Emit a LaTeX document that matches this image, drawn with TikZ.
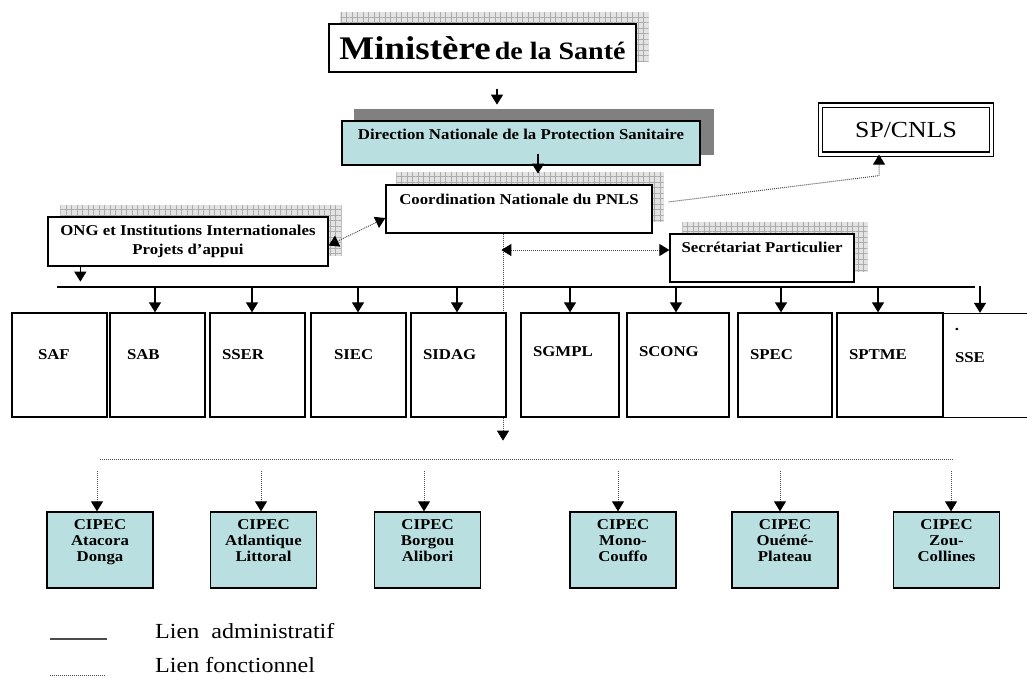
\documentclass[tikz,border=0pt]{standalone}
\usepackage{fontspec}
\setmainfont{Liberation Serif}[FakeStretch=1.12]
\usetikzlibrary{positioning, arrows.meta, backgrounds, patterns.meta}
\definecolor{cipecblue}{RGB}{186,223,225}
\definecolor{shadegray}{RGB}{128,128,128}
\newcommand\ttlfont{\bfseries\fontsize{15}{16}\selectfont}
\newcommand\lift[2]{\raisebox{#1}[\height][\depth]{#2}}
\newcommand\cip[2]{\lift{8pt}{\begin{tabular}{@{}c@{}}CIPEC\\#1\\#2\end{tabular}}}
\setlength{\parindent}{0pt}

\begin{document}
\begin{tikzpicture}[x=1pt, y=-1pt, >={Triangle[width=12pt,length=10pt,color=black]}]
		\tikzstyle{box} = [draw=black, line width=1.3pt, fill=white, inner sep=0pt, font=\ttlfont, align=center]
		\tikzstyle{svc} = [box, minimum height=104pt, inner xsep=12pt, align=left]
		\tikzstyle{cipec} = [box, fill=cipecblue, minimum width=106pt, minimum height=76pt]
		\tikzstyle{adm} = [->, line width=1.3pt]
		\tikzstyle{fct} = [densely dotted, line width=1pt, black!70]
		\tikzstyle{gridshade} = [preaction={fill=gray!22}, pattern={Hatch[angle=0,distance=5.5pt,line width=0.5pt]}, pattern color=gray!65]
		\tikzstyle{legend} = [anchor=west, inner sep=0pt, font=\fontsize{21.5}{24}\selectfont]
		\useasboundingbox (0,0) rectangle (1027,677);
		\clip (0,0) rectangle (1027,677);
		% top of the chart
		\node [box, minimum width=307pt, minimum height=48pt] (min) at (482.5,48) {{\fontsize{33}{36}\selectfont Ministère} {\fontsize{25}{28}\selectfont de la Santé}};
		\node [box, fill=cipecblue, minimum width=358pt, minimum height=44pt] (dnps) at (521,143) {\lift{9pt}{Direction Nationale de la Protection Sanitaire}};
		\node [box, minimum width=266pt, minimum height=48pt] (coord) at (519,209) {\lift{10pt}{Coordination Nationale du PNLS}};
		\node [box, double, double distance=3pt, line width=1.2pt, minimum width=171pt, minimum height=49pt, font=\fontsize{23}{26}\selectfont] (spcnls) at (906,129.5) {SP/CNLS};
		\node [box, minimum width=280pt, minimum height=49pt, font=\bfseries\fontsize{15}{19}\selectfont] (ong) at (188,241.5) {ONG et Institutions Internationales\\Projets d'appui};
		\node [box, minimum width=184pt, minimum height=48pt] (sec) at (762,258) {\lift{11pt}{Secrétariat Particulier}};
		\begin{scope}[on background layer]
		\fill [gridshade] ([shift={(12,-11)}]min.south west) rectangle ([shift={(12,-11)}]min.north east);
		\fill [shadegray] ([shift={(13,-11)}]dnps.south west) rectangle ([shift={(13,-11)}]dnps.north east);
		\fill [gridshade] ([shift={(11,-12)}]coord.south west) rectangle ([shift={(11,-12)}]coord.north east);
		\fill [gridshade] ([shift={(13,-11)}]ong.south west) rectangle ([shift={(13,-11)}]ong.north east);
		\fill [gridshade] ([shift={(13,-11)}]sec.south west) rectangle ([shift={(13,-11)}]sec.north east);
		\end{scope}
		\draw [adm] (min.south) ++(14.5,16) -- ++(0,16);
		\draw [adm] (dnps.south) ++(17,-12) -- ++(0,20);
		\draw [fct,->] ([xshift=16pt,yshift=7pt]coord.east) -- ([xshift=-27pt,yshift=-21pt]spcnls.south) -- ([xshift=-27pt]spcnls.south);
		\draw [fct,<->] ([yshift=-4pt]ong.east) -- ([yshift=-9pt]coord.west);
		\coordinate (drop) at ([xshift=-16pt]coord.south);
		\draw [fct,->] (drop) -- ++(0,207);
		\draw [fct,<->] ([yshift=8pt]sec.west) -- ++(-168,0);
		% services
		\node [svc, text width=71pt] (saf) at (59.5,365) {\lift{10pt}{\hspace*{14pt}SAF}};
		\node [svc, text width=71pt] (sab) at (157.5,365) {\lift{10pt}{\hspace*{5pt}SAB}};
		\node [svc, text width=71pt] (sser) at (257.5,365) {\lift{10pt}{SSER}};
		\node [svc, text width=71pt] (siec) at (358.5,365) {\lift{10pt}{\hspace*{11pt}SIEC}};
		\node [svc, text width=71pt] (sidag) at (458.5,365) {\lift{10pt}{SIDAG}};
		\node [svc, text width=74pt] (sgmpl) at (570,365) {\lift{13pt}{SGMPL}};
		\node [svc, text width=78pt] (scong) at (678,365) {\lift{13pt}{SCONG}};
		\node [svc, text width=70pt] (spec) at (785,365) {\lift{10pt}{SPEC}};
		\node [svc, text width=82pt] (sptme) at (890,365) {\lift{10pt}{SPTME}};
		\node [svc, text width=73pt] (sse) at (991.5,365.5) {\lift{8pt}{SSE}};
		\node [inner sep=0pt, font=\ttlfont] (ssedot) at (957,329) {.};
		\coordinate (busL) at (57,287);
		\coordinate (busR) at (975,287);
		\draw [line width=1.3pt] (busL) -- (busR);
		\draw [adm] (ong.south west) ++(33,0) -- ++(0,15);
		\draw [adm] (sab.north) ++(-2.5,-26) -- ++(0,26);
		\draw [adm] (sser.north) ++(-5.5,-26) -- ++(0,26);
		\draw [adm] (siec.north) ++(-0.5,-26) -- ++(0,26);
		\draw [adm] (sidag.north) ++(-1.5,-26) -- ++(0,26);
		\draw [adm] (sgmpl.north) ++(0,-26) -- ++(0,26);
		\draw [adm] (scong.north) ++(-2,-26) -- ++(0,26);
		\draw [adm] (spec.north) ++(-4,-26) -- ++(0,26);
		\draw [adm] (sptme.north) ++(-12,-26) -- ++(0,26);
		\draw [adm] (sse.north) ++(-11.5,-27) -- ++(0,27);
		% departmental committees
		\node [cipec] (c1) at (100,550) {\cip{Atacora}{Donga}};
		\node [cipec] (c2) at (263.5,550) {\cip{Atlantique}{Littoral}};
		\node [cipec] (c3) at (427.5,550) {\cip{Borgou}{Alibori}};
		\node [cipec] (c4) at (623,550) {\cip{Mono-}{Couffo}};
		\node [cipec] (c5) at (785,550) {\cip{Ouémé-}{Plateau}};
		\node [cipec] (c6) at (946.5,550) {\cip{Zou-}{Collines}};
		\coordinate (cipL) at (100,459);
		\coordinate (cipR) at (953,459);
		\draw [fct] (cipL) -- (cipR);
		\draw [fct,->] (c1.north) ++(-3,-40) -- ++(0,40);
		\draw [fct,->] (c2.north) ++(-2.5,-40) -- ++(0,40);
		\draw [fct,->] (c3.north) ++(-3.5,-40) -- ++(0,40);
		\draw [fct,->] (c4.north) ++(-5,-40) -- ++(0,40);
		\draw [fct,->] (c5.north) ++(-5,-40) -- ++(0,40);
		\draw [fct,->] (c6.north) ++(4.5,-40) -- ++(0,40);
		% legend
		\node [legend] (legadm) at (155,631) {Lien\ \ administratif};
		\node [legend] (legfct) at (155,665) {Lien fonctionnel};
		\draw [line width=1.3pt, black!70] (legadm.west) ++(-105,8) -- ++(57,0);
		\draw [fct] (legfct.west) ++(-105,10) -- ++(55,0);
\end{tikzpicture}
\end{document}
